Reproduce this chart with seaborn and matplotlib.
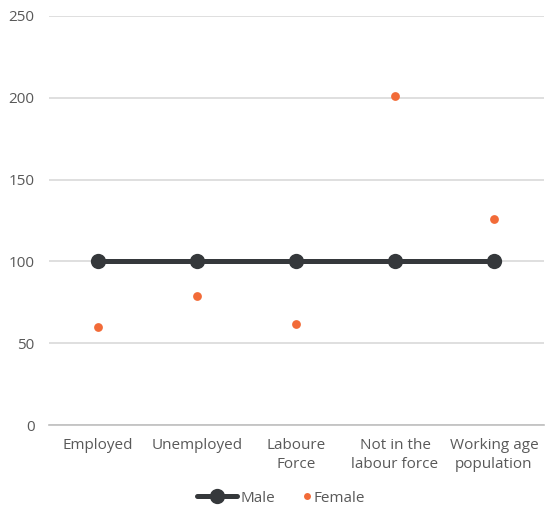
import matplotlib
matplotlib.use("Agg")
import matplotlib.pyplot as plt
import seaborn as sns
import pandas as pd
from matplotlib.lines import Line2D

categories = ["Employed", "Unemployed", "Laboure\nForce", "Not in the\nlabour force", "Working age\npopulation"]
male = [100, 100, 100, 100, 100]
female = [60, 79, 62, 201, 126]
y_ticks = [0, 50, 100, 150, 200, 250]

sns.set_style("white")
plt.rcParams["font.family"] = ["Open Sans", "DejaVu Sans"]

df = pd.DataFrame({"category": categories, "x": range(len(categories)),
                   "Male": male, "Female": female})

fig = plt.figure(figsize=(5.45, 5.11), dpi=100)
ax = fig.add_axes([48.5 / 545, 86 / 511, 495 / 545, 409 / 511])

text_color = "#595959"
male_color = "#35383b"
female_color = "#f26b38"
fs = 11

sns.lineplot(data=df, x="x", y="Male", ax=ax, color=male_color, linewidth=3.6,
             marker="o", markersize=11, markeredgewidth=0, zorder=3)
sns.scatterplot(data=df, x="x", y="Female", ax=ax, color=female_color, s=40,
                linewidth=0, zorder=4)

ax.set_xlim(-0.5, len(categories) - 0.5)
ax.set_ylim(0, 250)
ax.set_yticks(y_ticks)
ax.set_xticks(range(len(categories)))
ax.set_xticklabels(categories, fontsize=fs, color=text_color, linespacing=1.45)
ax.tick_params(axis="y", labelsize=fs, labelcolor=text_color, length=0, pad=10)
ax.tick_params(axis="x", length=0, pad=9)
ax.set_xlabel("")
ax.set_ylabel("")
ax.grid(axis="y", color="#d9d9d9", linewidth=1.2)
ax.set_axisbelow(True)
for side in ["left", "right", "top"]:
    ax.spines[side].set_visible(False)
ax.spines["bottom"].set_color("#bfbfbf")
ax.spines["bottom"].set_linewidth(1.2)

male_handle = Line2D([], [], color=male_color, linewidth=3.6, marker="o", markersize=11,
                     markeredgewidth=0)
female_handle = Line2D([], [], color=female_color, linestyle="none", marker="o", markersize=5,
                       markeredgewidth=0)
legend_y = 1 - 498 / 511
fig.legend([male_handle], ["Male"], loc="center", bbox_to_anchor=(236 / 545, legend_y),
           frameon=False, fontsize=fs, labelcolor=text_color,
           handlelength=2.6, handletextpad=0.2, borderpad=0)
fig.legend([female_handle], ["Female"], loc="center", bbox_to_anchor=(334 / 545, legend_y),
           frameon=False, fontsize=fs, labelcolor=text_color,
           handlelength=0.6, handletextpad=0.1, borderpad=0)

fig.savefig("out.png", dpi=100)
